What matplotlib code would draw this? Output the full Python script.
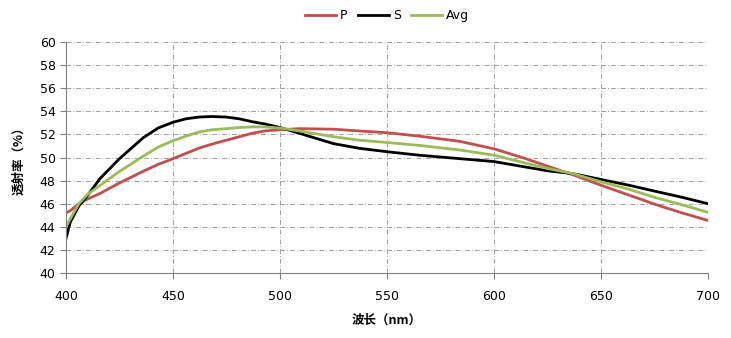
import matplotlib
matplotlib.use('Agg')
import matplotlib.pyplot as plt

plt.rcParams['font.family'] = ['DejaVu Sans', 'Noto Sans CJK SC']

# 波长 (nm)
wl = [400, 402, 406, 410, 416, 425, 436, 443, 450, 456, 462, 468, 475, 481, 487, 493, 500, 509,
      525, 537, 550, 565, 584, 600, 614, 625, 637, 650, 663, 676, 688, 700]

# 透射率 (%)
p_vals = [45.2, 45.4, 46.0, 46.4, 46.9, 47.8, 48.8, 49.4, 49.9, 50.35, 50.8, 51.15, 51.5, 51.8,
          52.1, 52.3, 52.4, 52.5, 52.45, 52.3, 52.15, 51.85, 51.4, 50.75, 49.95, 49.25, 48.5,
          47.6, 46.75, 45.9, 45.2, 44.55]
s_vals = [43.0, 44.4, 45.8, 46.7, 48.2, 49.9, 51.7, 52.55, 53.05, 53.35, 53.5, 53.55, 53.5, 53.35,
          53.1, 52.9, 52.6, 52.1, 51.2, 50.8, 50.5, 50.2, 49.9, 49.65, 49.2, 48.85, 48.6, 48.1,
          47.6, 47.05, 46.55, 46.0]
avg_vals = [44.0, 44.7, 46.0, 46.8, 47.6, 48.8, 50.1, 50.9, 51.45, 51.85, 52.2, 52.4, 52.5, 52.6,
            52.65, 52.65, 52.55, 52.3, 51.8, 51.5, 51.3, 51.05, 50.65, 50.2, 49.55, 49.05, 48.6,
            47.9, 47.25, 46.5, 45.9, 45.25]

fig = plt.figure(figsize=(7.31, 3.38), dpi=100)
ax = fig.add_axes([0.0903, 0.1923, 0.8782, 0.6834])

ax.plot(wl, p_vals, color='#C0504D', lw=2.0, label='P')
ax.plot(wl, s_vals, color='black', lw=2.0, label='S')
ax.plot(wl, avg_vals, color='#9BBB59', lw=2.0, label='Avg')

ax.set_xlim(400, 700)
ax.set_ylim(40, 60)
ax.set_xticks(range(400, 701, 50))
ax.set_yticks(range(40, 61, 2))
ax.grid(True, color='#a0a0a0', lw=0.7, linestyle=(0, (5, 2, 1, 2)))
ax.set_axisbelow(True)

for side in ['top', 'right']:
    ax.spines[side].set_visible(False)
for side in ['left', 'bottom']:
    ax.spines[side].set_color('#808080')
ax.tick_params(colors='#808080', labelcolor='black', labelsize=9, length=4, direction='out')
ax.tick_params(axis='x', pad=8)

ax.set_xlabel('波长（nm）', family=['Noto Sans CJK SC'], fontweight='bold', fontsize=9, labelpad=8)
ax.set_ylabel('透射率（%）', family=['Noto Sans CJK SC'], fontweight='bold', fontsize=9, labelpad=10)

ax.legend(loc='upper center', bbox_to_anchor=(0.5, 1.19), ncol=3, frameon=False, fontsize=9,
          handlelength=2.5, columnspacing=0.8, handletextpad=0.3)

fig.savefig('out.png', dpi=100)
